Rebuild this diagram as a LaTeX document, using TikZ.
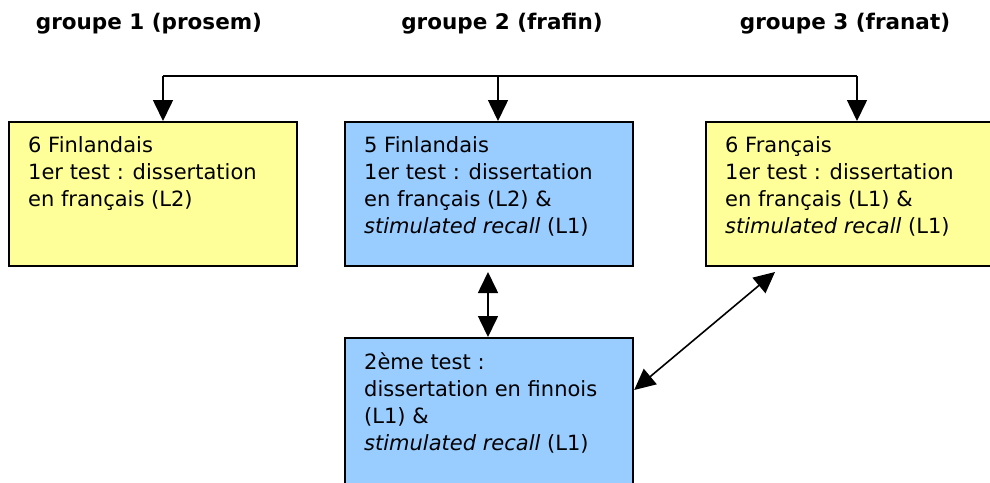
\documentclass[tikz,border=0pt]{standalone}
\usepackage{fontspec}
\setmainfont{DejaVu Sans}
\usetikzlibrary{arrows.meta,positioning}

\definecolor{jaune}{HTML}{FFFF99}
\definecolor{bleu}{HTML}{99CCFF}

\tikzset{
  boite/.style={draw, line width=2.2pt, minimum width=288pt, minimum height=144pt, inner sep=0pt, anchor=north west},
  texte/.style={anchor=north west, align=left, inner sep=0pt, font=\fontsize{21}{27}\selectfont},
  titre/.style={font=\fontsize{21.5}{24}\selectfont\bfseries},
  fleche/.style={line width=1.6pt, -{Triangle[length=21pt,width=20pt]}},
  double fleche/.style={line width=1.6pt, {Triangle[length=21pt,width=20pt]}-{Triangle[length=21pt,width=20pt]}},
}

\begin{document}
\begin{tikzpicture}[x=1pt,y=-1pt]
	\clip (0,0) rectangle (990,482);   %% page size
	\fill[white] (0,0) rectangle (990,482);

	\node[titre] (g1) at (149,24) {groupe 1 (prosem)};
	\node[titre] (g2) at (502,24) {groupe 2 (frafin)};
	\node[titre] (g3) at (845,24) {groupe 3 (franat)};

	\node[boite, fill=jaune] (b1) at (8,121) {};
	\node[boite, fill=bleu] (b2) at (344,121) {};
	\node[boite, fill=jaune] (b3) at (705,121) {};
	\node[boite, fill=bleu, minimum height=170pt] (b4) at (344,337) {};

	\node[texte, below right=15pt and 20pt of b1.north west] (t1) {6 Finlandais\\1er test : dissertation\\en français (L2)};
	\node[texte, below right=15pt and 20pt of b2.north west] (t2) {5 Finlandais\\1er test : dissertation\\en français (L2) \&\\\textit{stimulated recall} (L1)};
	\node[texte, below right=15pt and 20pt of b3.north west] (t3) {6 Français\\1er test : dissertation\\en français (L1) \&\\\textit{stimulated recall} (L1)};
	\node[texte, below right=15pt and 20pt of b4.north west] (t4) {2ème test :\\dissertation en finnois\\(L1) \&\\\textit{stimulated recall} (L1)};

	\coordinate (h1) at (163,76);
	\coordinate (h2) at (498,76);
	\coordinate (h3) at (857,76);
	\draw[line width=1.6pt] (h1) -- (h3);
	\draw[fleche] (h1) -- (h1 |- b1.north);
	\draw[fleche] (h2) -- (h2 |- b2.north);
	\draw[fleche] (h3) -- (h3 |- b3.north);

	\coordinate (v1) at (488,272);
	\draw[double fleche] (v1) -- (v1 |- b4.north);
	\coordinate (d1) at (775,272);
	\coordinate (d2) at (b4.east |- 0,390);
	\draw[double fleche] (d1) -- (d2);
\end{tikzpicture}
\end{document}
